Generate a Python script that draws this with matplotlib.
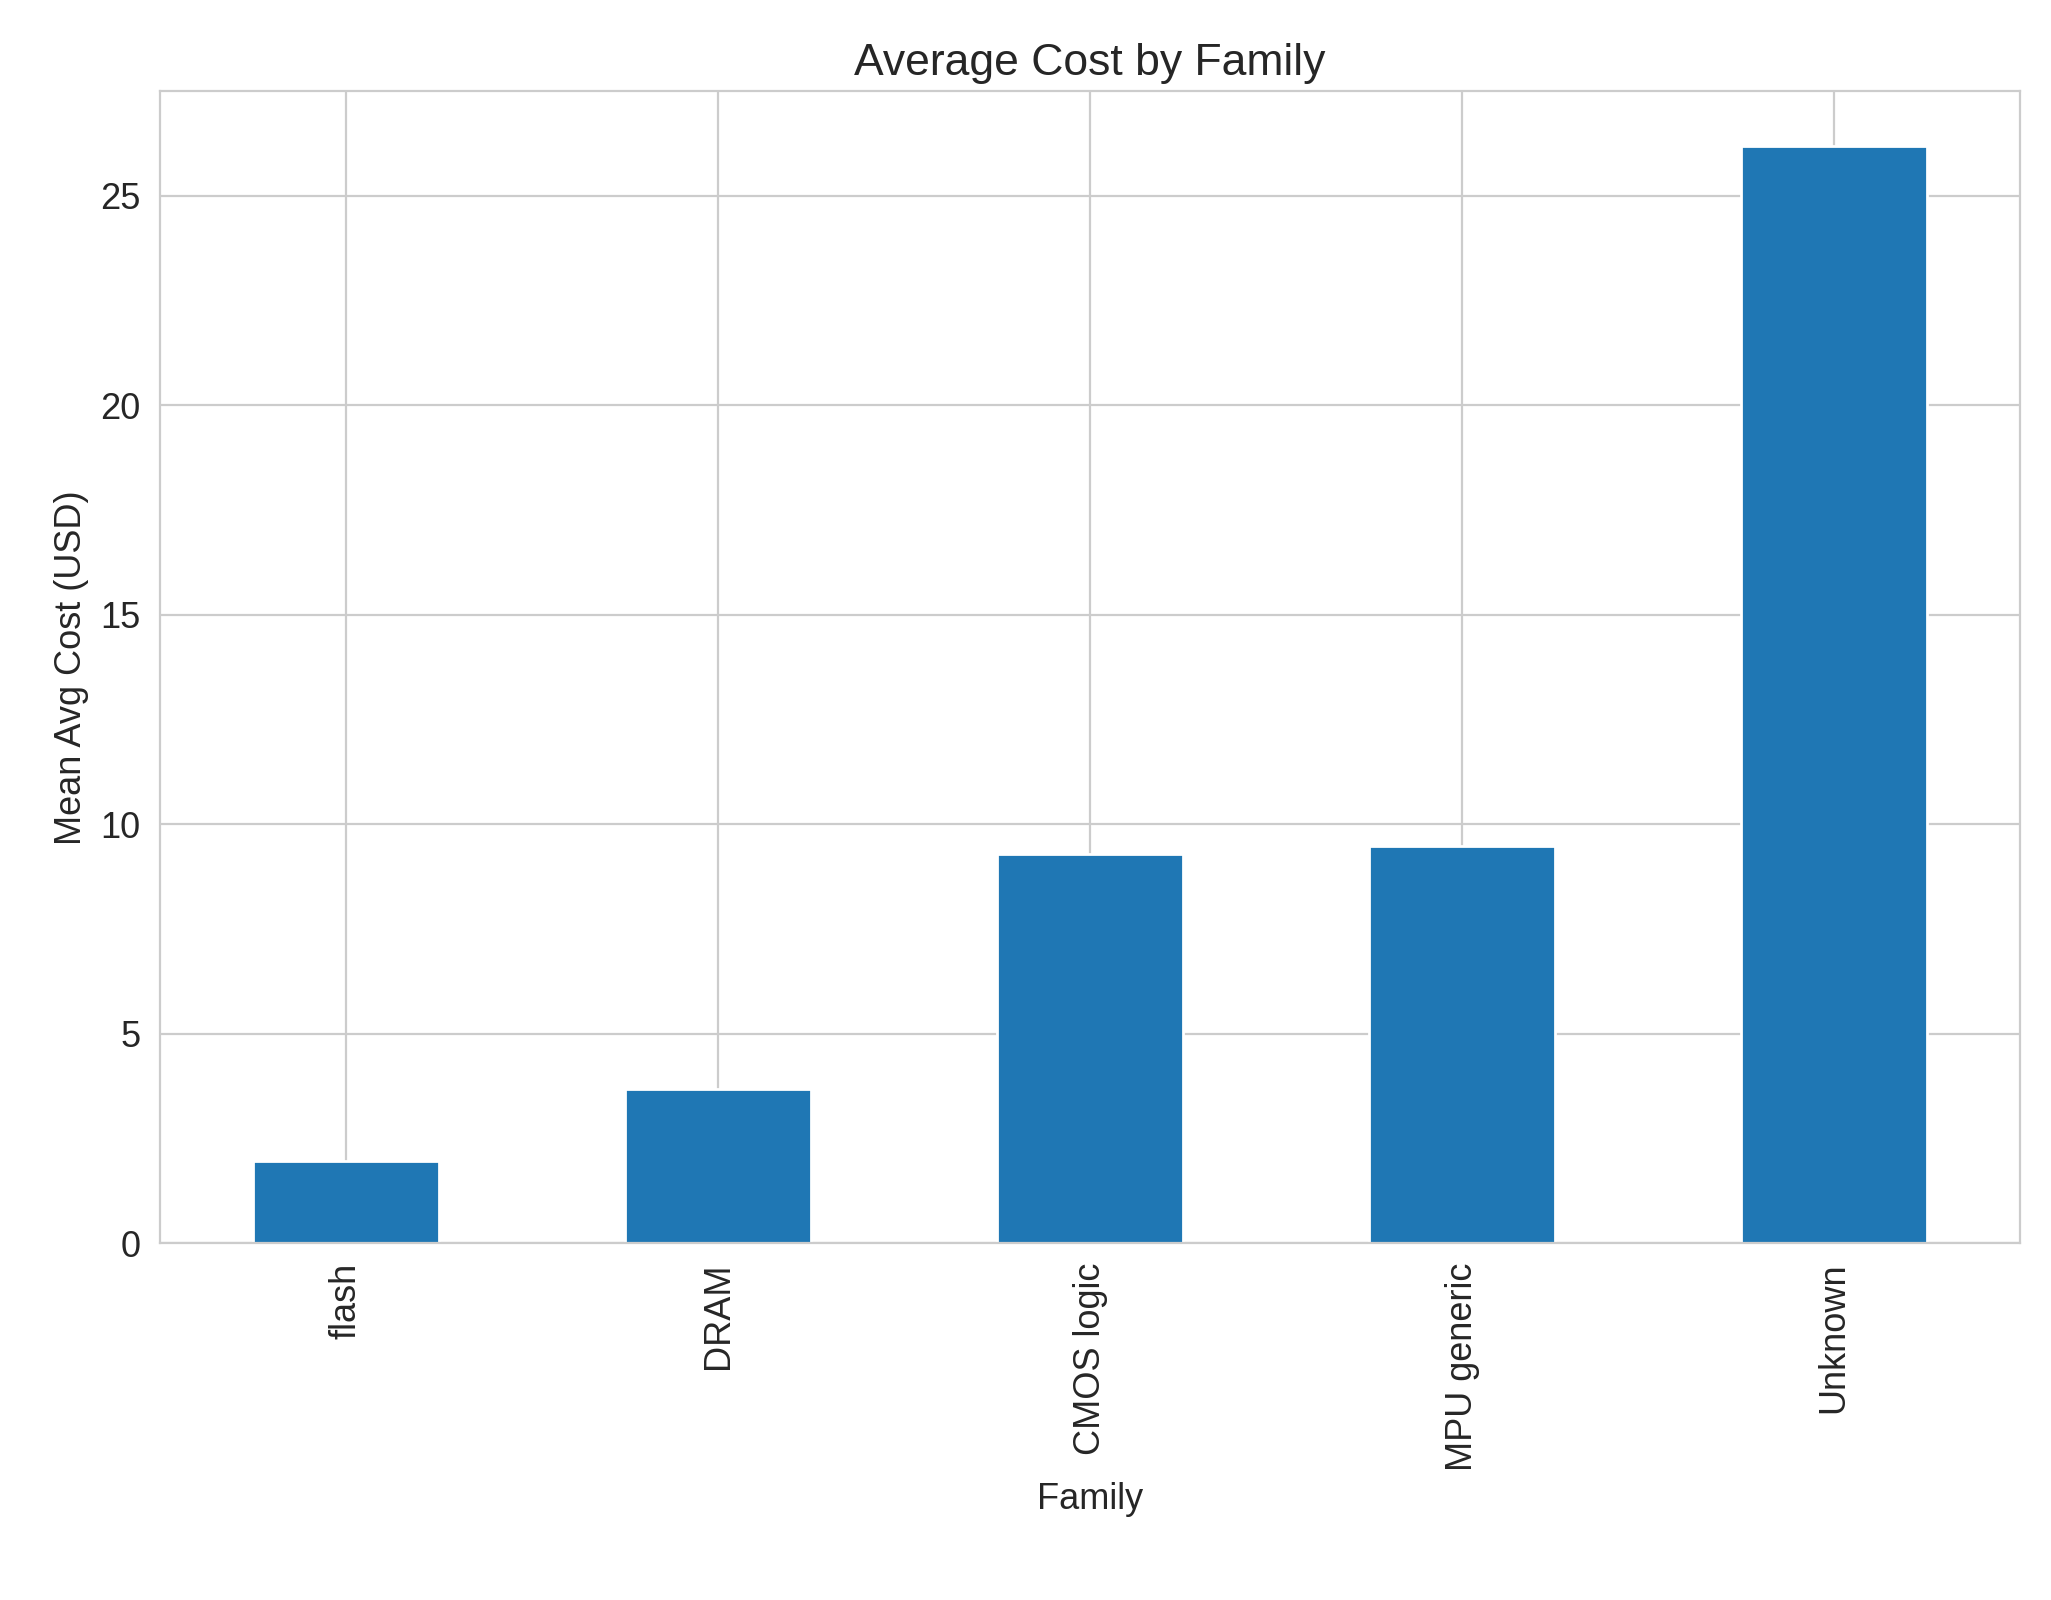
import matplotlib.pyplot as plt
import seaborn as sns

families = ["flash", "DRAM", "CMOS logic", "MPU generic", "Unknown"]
mean_cost = [1.97, 3.68, 9.28, 9.47, 26.2]

sns.set_style("whitegrid")
plt.rcParams['font.family'] = ['Arial', 'Liberation Sans', 'DejaVu Sans']

fig = plt.figure(figsize=(10.255, 8), dpi=200)
ax = fig.add_axes([0.078, 0.223, 0.907, 0.72])
x = range(len(families))
ax.bar(x, mean_cost, width=0.5, color="#1f77b4", edgecolor="white", zorder=2)
ax.set_axisbelow(True)
ax.set_xticks(list(x))
ax.set_xticklabels(families, rotation=90, fontsize=13)
ax.tick_params(axis="y", labelsize=13)
ax.set_xlim(-0.5, len(families) - 0.5)
ax.set_ylim(0, 27.5)
ax.set_title("Average Cost by Family", fontsize=16)
ax.set_xlabel("Family", fontsize=13)
ax.set_ylabel("Mean Avg Cost (USD)", fontsize=13)

fig.savefig("out.png", dpi=200)
